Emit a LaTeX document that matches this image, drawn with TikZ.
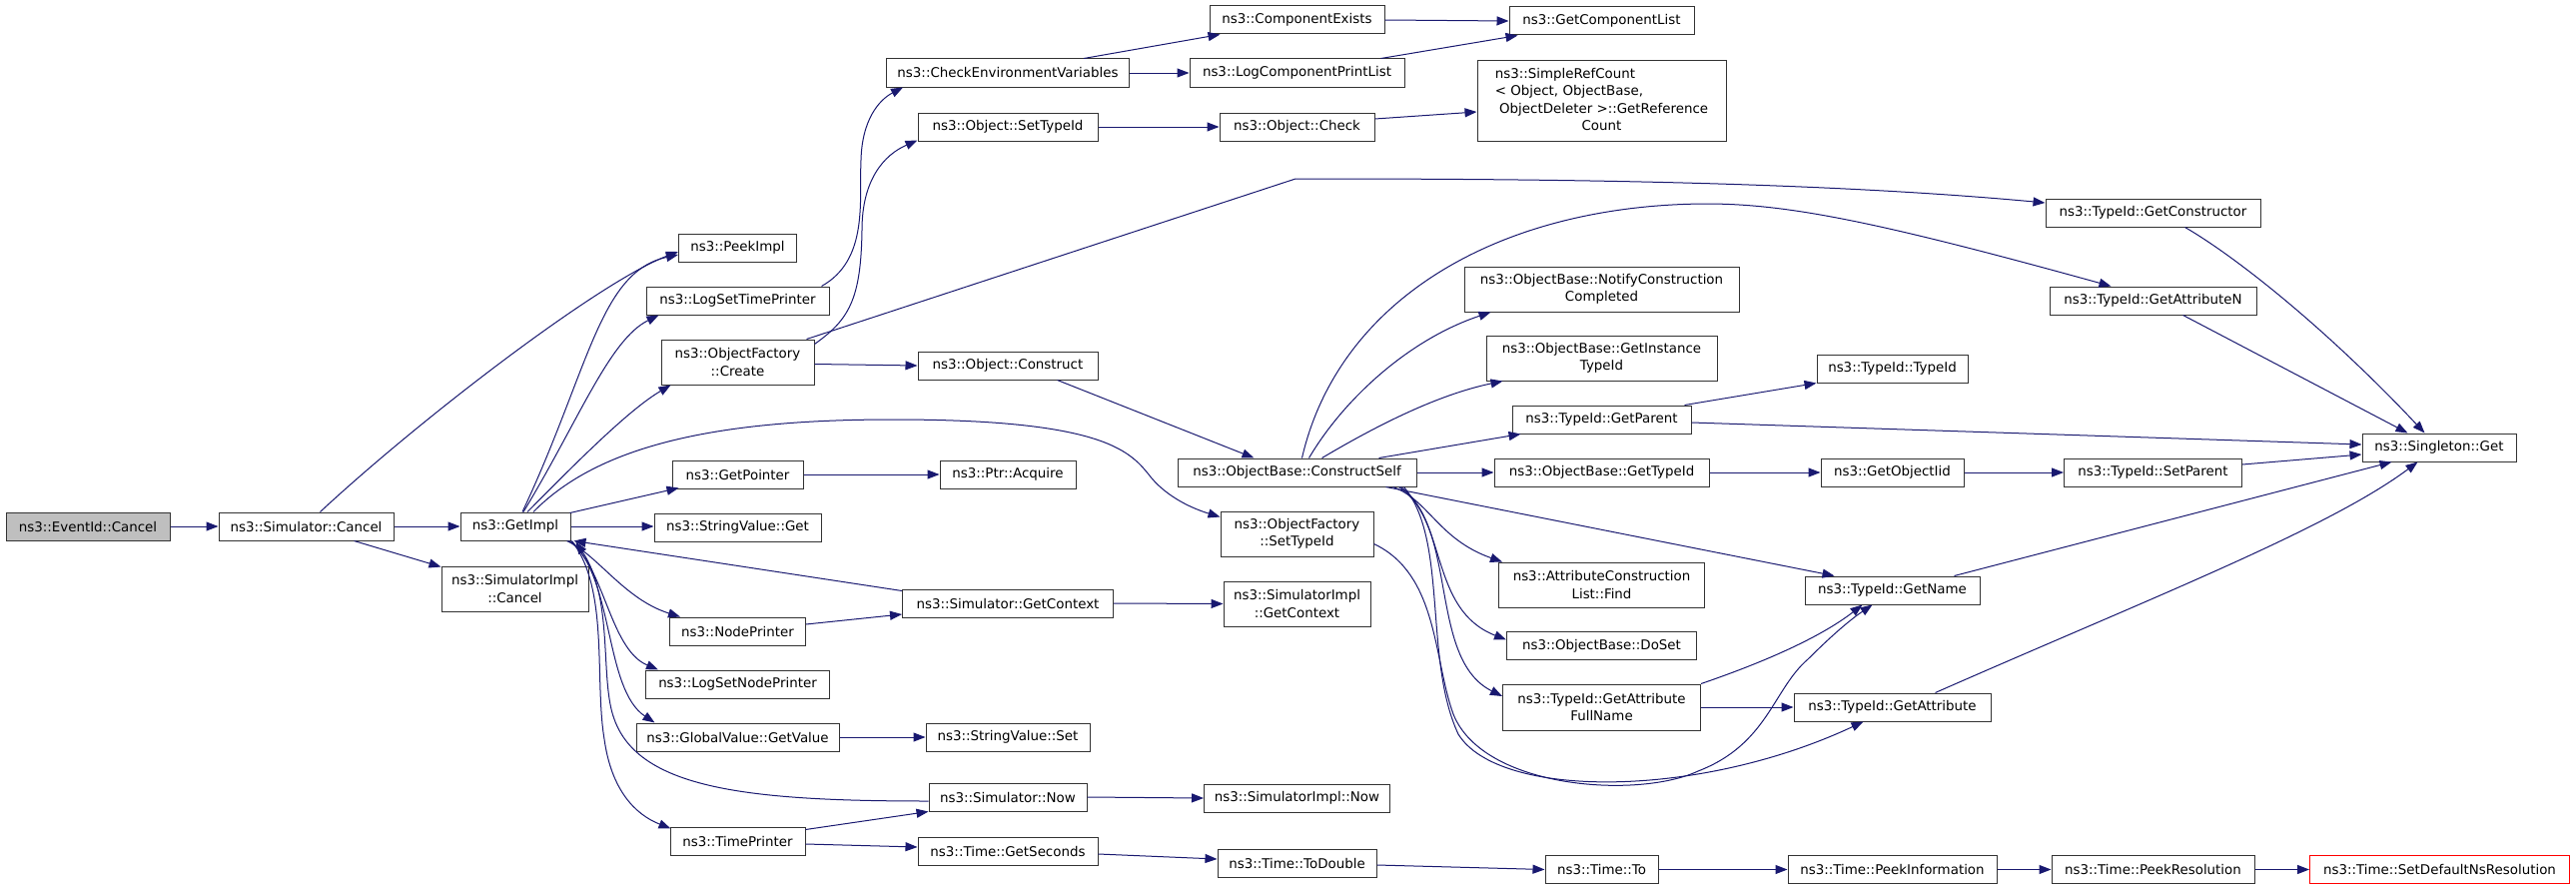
\documentclass[tikz,border=0pt]{standalone}
\usepackage{fontspec}
\setmainfont{DejaVu Sans}
\usetikzlibrary{arrows.meta}
\definecolor{edgec}{HTML}{191970}
\definecolor{rootfill}{HTML}{BFBFBF}
\begin{document}
\begin{tikzpicture}[x=1pt,y=-1pt,
  fnode/.style={draw=black!80, line width=1pt, fill=white, inner sep=2pt, minimum height=28pt, align=center, font=\fontsize{13.4}{17.5}\selectfont},
  call/.style={draw=edgec, line width=1pt, -{Triangle[length=12pt,width=9pt]}}]
\fill[white] (0,0) rectangle (2579,891);
\useasboundingbox (0,0) rectangle (2579,891);

% rank 0-2
\node[fnode, fill=rootfill, minimum width=164pt] (ev) at (88,527) {ns3::EventId::Cancel};
\node[fnode, minimum width=175pt] (simcancel) at (306.5,527) {ns3::Simulator::Cancel};
\node[fnode, minimum width=110pt] (getimpl) at (516,527) {ns3::GetImpl};
\node[fnode, minimum width=147pt, minimum height=45pt] (simimplcancel) at (515.5,589.5) {ns3::SimulatorImpl\\::Cancel};
% rank 3
\node[fnode, minimum width=118pt] (peekimpl) at (738.5,248) {ns3::PeekImpl};
\node[fnode, minimum width=183pt] (logsettp) at (738.5,301) {ns3::LogSetTimePrinter};
\node[fnode, minimum width=153pt, minimum height=45pt] (ofcreate) at (738.5,362.5) {ns3::ObjectFactory\\::Create};
\node[fnode, minimum width=131pt] (getpointer) at (738.5,475) {ns3::GetPointer};
\node[fnode, minimum width=167pt] (svget) at (738.5,528) {ns3::StringValue::Get};
\node[fnode, minimum width=136pt] (nodeprinter) at (738.5,632) {ns3::NodePrinter};
\node[fnode, minimum width=184pt] (logsetnp) at (738.5,685) {ns3::LogSetNodePrinter};
\node[fnode, minimum width=203pt] (gvget) at (738.5,738) {ns3::GlobalValue::GetValue};
\node[fnode, minimum width=135pt] (timeprinter) at (738.5,842) {ns3::TimePrinter};
% rank 4
\node[fnode, minimum width=243pt] (checkenv) at (1009,73) {ns3::CheckEnvironmentVariables};
\node[fnode, minimum width=180pt] (objsettid) at (1009,127) {ns3::Object::SetTypeId};
\node[fnode, minimum width=180pt] (objconstruct) at (1009,366) {ns3::Object::Construct};
\node[fnode, minimum width=136pt] (ptracq) at (1009,475) {ns3::Ptr::Acquire};
\node[fnode, minimum width=211pt] (simgetctx) at (1009,604) {ns3::Simulator::GetContext};
\node[fnode, minimum width=164pt] (svset) at (1009,738) {ns3::StringValue::Set};
\node[fnode, minimum width=158pt] (simnow) at (1009,798) {ns3::Simulator::Now};
\node[fnode, minimum width=180pt] (getsec) at (1009,852) {ns3::Time::GetSeconds};
% rank 5
\node[fnode, minimum width=175pt] (compexists) at (1298.5,20) {ns3::ComponentExists};
\node[fnode, minimum width=215pt] (logcpl) at (1298.5,73) {ns3::LogComponentPrintList};
\node[fnode, minimum width=155pt] (objcheck) at (1298.5,127) {ns3::Object::Check};
\node[fnode, minimum width=239pt] (constructself) at (1298.5,473) {ns3::ObjectBase::ConstructSelf};
\node[fnode, minimum width=153pt, minimum height=45pt] (ofsettid) at (1298.5,534.5) {ns3::ObjectFactory\\::SetTypeId};
\node[fnode, minimum width=147pt, minimum height=45pt] (simimplctx) at (1298.5,604.5) {ns3::SimulatorImpl\\::GetContext};
\node[fnode, minimum width=186pt] (simimplnow) at (1298.5,799) {ns3::SimulatorImpl::Now};
\node[fnode, minimum width=159pt] (todouble) at (1298.5,864) {ns3::Time::ToDouble};
% rank 6
\node[fnode, minimum width=185pt] (getcomplist) at (1603.5,21) {ns3::GetComponentList};
\node[fnode, minimum width=249pt, minimum height=80pt] (srefcount) at (1603.5,101) {\begin{tabular}{@{}l@{}}ns3::SimpleRefCount\\< Object, ObjectBase,\\\ ObjectDeleter >::GetReference\\\multicolumn{1}{@{}c@{}}{Count}\end{tabular}};
\node[fnode, minimum width=275pt, minimum height=45pt] (notify) at (1603.5,289.5) {ns3::ObjectBase::NotifyConstruction\\Completed};
\node[fnode, minimum width=231pt, minimum height=45pt] (getinsttid) at (1603.5,358.5) {ns3::ObjectBase::GetInstance\\TypeId};
\node[fnode, minimum width=179pt] (getparent) at (1603.5,420) {ns3::TypeId::GetParent};
\node[fnode, minimum width=215pt] (obgettid) at (1603.5,473) {ns3::ObjectBase::GetTypeId};
\node[fnode, minimum width=206pt, minimum height=45pt] (acl) at (1603.5,585.5) {ns3::AttributeConstruction\\List::Find};
\node[fnode, minimum width=190pt] (doset) at (1603.5,646.5) {ns3::ObjectBase::DoSet};
\node[fnode, minimum width=198pt, minimum height=46pt] (getattrfn) at (1603.5,708) {ns3::TypeId::GetAttribute\\FullName};
\node[fnode, minimum width=113pt] (tto) at (1603.5,870.5) {ns3::Time::To};
% rank 7
\node[fnode, minimum width=151pt] (typeidtypeid) at (1894.5,369) {ns3::TypeId::TypeId};
\node[fnode, minimum width=143pt] (getobjiid) at (1894.5,473) {ns3::GetObjectIid};
\node[fnode, minimum width=175pt] (getname) at (1894.5,591) {ns3::TypeId::GetName};
\node[fnode, minimum width=197pt] (getattr) at (1894.5,708) {ns3::TypeId::GetAttribute};
\node[fnode, minimum width=209pt] (peekinfo) at (1894.5,870.5) {ns3::Time::PeekInformation};
% rank 8
\node[fnode, minimum width=215pt] (getctor) at (2155.5,213) {ns3::TypeId::GetConstructor};
\node[fnode, minimum width=207pt] (getattrn) at (2155.5,301) {ns3::TypeId::GetAttributeN};
\node[fnode, minimum width=178pt] (setparent) at (2155.5,473) {ns3::TypeId::SetParent};
\node[fnode, minimum width=203pt] (peekres) at (2155.5,870.5) {ns3::Time::PeekResolution};
% rank 9
\node[fnode, minimum width=154pt] (singleton) at (2442,448) {ns3::Singleton::Get};
\node[fnode, draw=red, minimum width=260pt] (setdefault) at (2442.5,870.5) {ns3::Time::SetDefaultNsResolution};

% ---- edges ----
\draw[call] (ev.east) -- (simcancel.west);
\draw[call] (simcancel.east) -- (getimpl.west);
\draw[call] ([shift={(14,0)}]simcancel.north) .. controls (420,420) and (600,282) .. ([shift={(0,4)}]peekimpl.west);
\draw[call] ([shift={(48,0)}]simcancel.south) -- ([shift={(0,1)}]simimplcancel.north west);
\draw[call] ([shift={(7,0)}]getimpl.north) .. controls (590,370) and (600,272) .. ([shift={(0,7)}]peekimpl.west);
\draw[call] ([shift={(8,0)}]getimpl.north) .. controls (580,420) and (610,340) .. ([shift={(13,0)}]logsettp.south west);
\draw[call] ([shift={(12,0)}]getimpl.north) .. controls (580,460) and (630,410) .. ([shift={(10,0)}]ofcreate.south west);
\draw[call] ([shift={(18,0)}]getimpl.north) .. controls (600,445) and (720,420) .. (894,420) .. controls (1100,420) and (1130,450) .. (1150,475) .. controls (1165,495) and (1190,508) .. ([shift={(0,6)}]ofsettid.north west);
\draw[call] ([shift={(-1,1)}]getimpl.north east) -- ([shift={(7,-1)}]getpointer.south west);
\draw[call] (getimpl.east) -- (getimpl.east -| svget.west);
\draw[call] ([shift={(0,2)}]simgetctx.north west) -- ([shift={(3,0)}]getimpl.south east);
\draw[call] ([shift={(-4,0)}]getimpl.south east) .. controls (598,555) and (625,600) .. ([shift={(11,0)}]nodeprinter.north west);
\draw[call] ([shift={(-2,0)}]getimpl.south east) .. controls (605,565) and (610,650) .. ([shift={(13,0)}]logsetnp.north west);
\draw[call] (getimpl.south east) .. controls (615,580) and (605,690) .. ([shift={(19,0)}]gvget.north west);
\draw[call] ([shift={(0,4)}]simnow.west) .. controls (750,802) and (640,790) .. (615,720) .. controls (600,680) and (615,600) .. ([shift={(5,1)}]getimpl.south east);
\draw[call] ([shift={(1,0)}]getimpl.south east) .. controls (610,590) and (595,680) .. (605,740) .. controls (612,790) and (635,815) .. ([shift={(1,2)}]timeprinter.north west);

\draw[call] ([shift={(-8,0)}]logsettp.north east) .. controls (870,260) and (860,200) .. (862,160) .. controls (863,120) and (880,100) .. ([shift={(17,0)}]checkenv.south west);
\draw[call] ([shift={(0,5)}]ofcreate.north east) .. controls (850,320) and (862,300) .. (863,230) .. controls (863,180) and (885,155) .. ([shift={(0,-1)}]objsettid.south west);
\draw[call] ([shift={(-8,0)}]ofcreate.north east) -- (1297,179) .. controls (1500,179) and (1800,180) .. ([shift={(0,-10)}]getctor.west);
\draw[call] ([shift={(0,2)}]ofcreate.east) -- (objconstruct.west);
\draw[call] (getpointer.east) -- (ptracq.west);
\draw[call] (gvget.east) -- (svset.west);
\draw[call] ([shift={(0,-7)}]nodeprinter.east) -- ([shift={(0,11)}]simgetctx.west);
\draw[call] ([shift={(0,3)}]timeprinter.north east) -- (simnow.south west);
\draw[call] ([shift={(0,3)}]timeprinter.east) -- ([shift={(0,-4)}]getsec.west);

\draw[call] ([shift={(-46,0)}]checkenv.north east) -- ([shift={(11,0)}]compexists.south west);
\draw[call] (checkenv.east) -- (logcpl.west);
\draw[call] (objsettid.east) -- (objcheck.west);
\draw[call] ([shift={(-41,0)}]objconstruct.south east) -- ([shift={(77,0)}]constructself.north west);
\draw[call] (simgetctx.east) -- (simimplctx.west);
\draw[call] (simnow.east) -- (simimplnow.west);
\draw[call] ([shift={(0,3)}]getsec.east) -- ([shift={(0,-4)}]todouble.west);

\draw[call] (compexists.east) -- (getcomplist.west);
\draw[call] ([shift={(-24,0)}]logcpl.north east) -- ([shift={(9,0)}]getcomplist.south west);
\draw[call] ([shift={(0,-8)}]objcheck.east) -- ([shift={(0,11)}]srefcount.west);
\draw[call] ([shift={(0,2)}]todouble.east) -- (tto.west);

\draw[call] ([shift={(5,0)}]constructself.north) .. controls (1340,300) and (1500,205) .. (1708,204) .. controls (1790,204) and (1880,222) .. ([shift={(-42,0)}]getattrn.north);
\draw[call] ([shift={(12,0)}]constructself.north) .. controls (1345,400) and (1410,340) .. ([shift={(27,0)}]notify.south west);
\draw[call] ([shift={(25,0)}]constructself.north) .. controls (1380,425) and (1440,395) .. ([shift={(17,0)}]getinsttid.south west);
\draw[call] ([shift={(82,0)}]constructself.north) -- ([shift={(9,0)}]getparent.south west);
\draw[call] (constructself.east) -- (obgettid.west);
\draw[call] ([shift={(-31,0)}]constructself.south east) -- ([shift={(30,0)}]getname.north west);
\draw[call] ([shift={(-24,0)}]constructself.south east) .. controls (1430,500) and (1440,540) .. ([shift={(4,0)}]acl.north west);
\draw[call] ([shift={(-18,0)}]constructself.south east) .. controls (1450,520) and (1430,610) .. ([shift={(0,-6)}]doset.west);
\draw[call] ([shift={(-16,0)}]constructself.south east) .. controls (1460,530) and (1430,660) .. ([shift={(0,-11)}]getattrfn.west);
\draw[call] ([shift={(-13,0)}]constructself.south east) .. controls (1450,540) and (1425,660) .. (1460,735) .. controls (1500,800) and (1700,800) .. ([shift={(70,0)}]getattr.south west);
\draw[call] ([shift={(0,10)}]ofsettid.east) .. controls (1440,575) and (1435,660) .. (1455,715) .. controls (1485,790) and (1640,800) .. (1700,772) .. controls (1770,745) and (1775,690) .. (1810,660) .. controls (1830,640) and (1850,622) .. ([shift={(68,0)}]getname.south west);

\draw[call] (getattrfn.north east) .. controls (1760,665) and (1820,640) .. ([shift={(58,0)}]getname.south west);
\draw[call] (getattrfn.east) -- (getattr.west);
\draw[call] ([shift={(-7,0)}]getparent.north east) -- (typeidtypeid.south west);
\draw[call] ([shift={(0,3)}]getparent.east) -- ([shift={(0,-3)}]singleton.west);
\draw[call] (obgettid.east) -- (getobjiid.west);
\draw[call] (tto.east) -- (peekinfo.west);

\draw[call] (getobjiid.east) -- (setparent.west);
\draw[call] (peekinfo.east) -- (peekres.west);

\draw[call] ([shift={(0,-8)}]setparent.east) -- ([shift={(0,7)}]singleton.west);
\draw[call] ([shift={(32,0)}]getctor.south) .. controls (2240,258) and (2330,330) .. ([shift={(63,0)}]singleton.north west);
\draw[call] ([shift={(30,0)}]getattrn.south) -- ([shift={(46,0)}]singleton.north west);
\draw[call] ([shift={(-26,0)}]getname.north east) -- ([shift={(30,0)}]singleton.south west);
\draw[call] ([shift={(-56,0)}]getattr.north east) .. controls (2150,600) and (2330,530) .. ([shift={(56,0)}]singleton.south west);
\draw[call] (peekres.east) -- (setdefault.west);
\end{tikzpicture}
\end{document}
